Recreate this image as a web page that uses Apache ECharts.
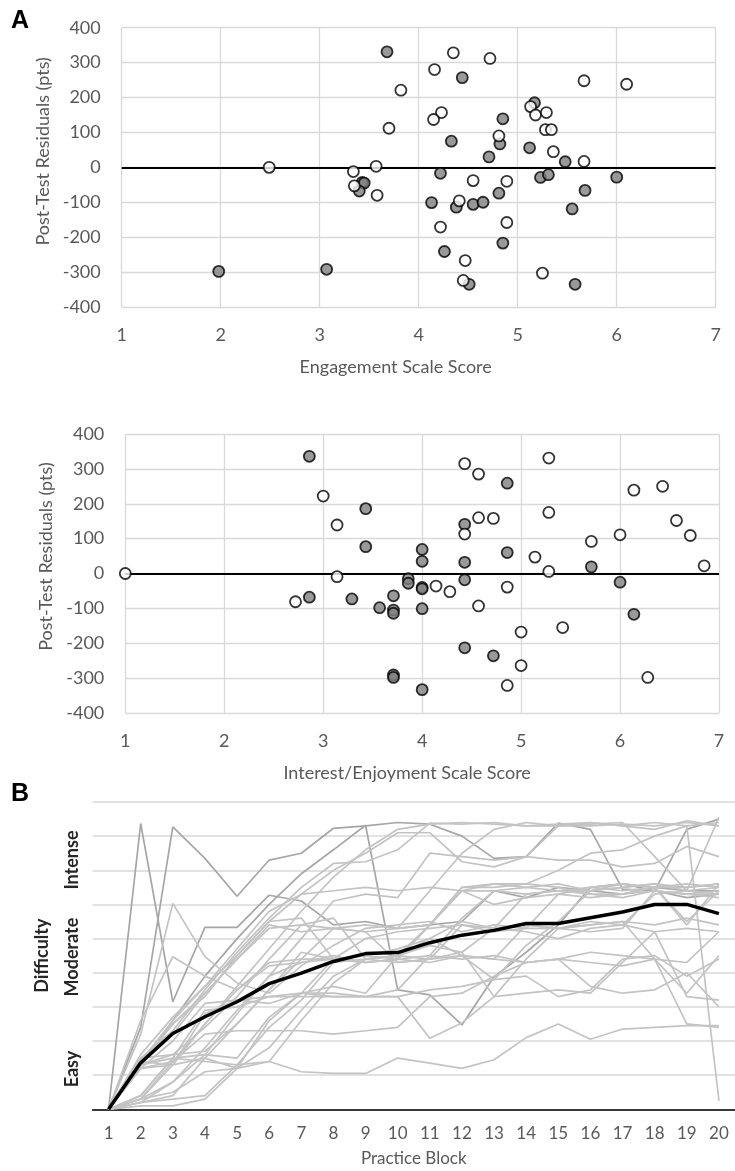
<!DOCTYPE html>
<html>
<head>
<meta charset="utf-8">
<script src="https://cdn.jsdelivr.net/npm/echarts@6/dist/echarts.min.js"></script>
<style>
  html, body { margin: 0; padding: 0; background: #ffffff; }
  #chart { width: 735px; height: 1171px; }
</style>
</head>
<body>
<div id="chart"></div>
<script>
// ---------- Panel A: post-test residuals vs. questionnaire scale scores ----------
// [scale score, residual]
const engagementOpen = [
  [2.49, 0], [3.34, -12], [3.57, 3], [3.35, -53], [3.58, -80], [3.82, 221], [3.70, 112],
  [4.35, 328], [4.72, 312], [4.16, 280], [5.67, 248], [6.10, 238], [5.13, 174], [5.18, 150],
  [5.29, 157], [4.23, 157], [4.15, 137], [5.28, 108], [5.34, 108], [4.81, 90], [5.36, 45],
  [5.67, 17], [4.55, -38], [4.89, -40], [4.41, -96], [4.89, -158], [4.22, -171],
  [4.47, -267], [5.25, -303], [4.45, -324]
];
const engagementFilled = [
  [3.68, 331], [3.43, -43], [3.45, -45], [3.40, -68], [1.98, -298], [3.07, -292],
  [4.44, 257], [5.17, 185], [4.85, 139], [4.82, 67], [4.33, 75], [5.12, 56], [4.71, 30],
  [5.48, 16], [4.22, -17], [5.23, -29], [5.31, -21], [6.00, -28], [5.68, -66], [4.81, -74],
  [4.13, -101], [4.38, -114], [4.55, -106], [4.65, -100], [5.55, -119], [4.85, -217],
  [4.26, -241], [4.51, -335], [5.58, -335]
];
const interestOpen = [
  [1.00, 0], [3.00, 222], [3.14, 139], [3.14, -9], [2.72, -81], [4.14, -36], [4.28, -52],
  [4.43, 315], [4.57, 285], [5.28, 331], [4.43, 113], [4.57, 160], [4.72, 158], [5.28, 175],
  [5.14, 47], [5.28, 6], [4.86, -39], [4.57, -93], [5.00, -168], [5.42, -155], [5.00, -264],
  [4.86, -321], [5.71, 92], [6.00, 111], [6.14, 239], [6.43, 250], [6.57, 152], [6.71, 109],
  [6.85, 22], [6.28, -298]
];
const interestFilled = [
  [2.86, 336], [3.43, 186], [3.43, 77], [2.86, -68], [3.29, -73], [3.71, -64], [3.57, -98],
  [3.71, -105], [3.71, -114], [3.86, -15], [3.86, -28], [3.71, -291], [3.71, -298],
  [4.00, 69], [4.00, 35], [4.00, -40], [4.00, -44], [4.00, -101], [4.00, -333],
  [4.86, 259], [4.43, 141], [4.43, 32], [4.43, -18], [4.86, 60], [4.43, -213], [4.72, -236],
  [5.71, 19], [6.00, -25], [6.14, -117]
];

// ---------- Panel B: difficulty level per practice block ----------
const blocks = ['1','2','3','4','5','6','7','8','9','10','11','12','13','14','15','16','17','18','19','20'];
const difficultyLabels = ['Easy', 'Moderate', 'Intense'];
const difficultyLabelLevels = [1.18, 4.46, 7.3];

// one row per participant (difficulty level, blocks 1-20)
const participantDifficulty = [
  [0,2.4,8.27,7.35,6.24,7.3,7.5,8.23,8.3,8.4,8.35,8.0,7.35,7.4,8.38,8.2,6.45,6.4,8.2,8.5],
  [0,8.37,3.15,5.33,5.33,6.27,6.1,5.4,5.5,5.3,5.4,5.5,6.4,6.2,6.5,6.4,6.3,6.5,6.4,6.4],
  [0,1.3,2.6,3.9,5.0,6.0,6.9,7.6,8.32,3.5,3.35,2.47,3.88,4.6,5.4,6.5,6.6,6.4,6.2,6.3],
  [0,1.5,2.3,3.5,4.6,5.6,6.5,7.2,7.25,7.6,8.38,8.35,8.4,8.3,8.35,8.4,8.3,8.2,8.45,8.3],
  [0,0.3,1.4,2.5,3.6,4.7,5.8,6.8,7.6,8.2,8.35,8.4,8.35,8.3,8.3,8.35,8.4,7.4,6.4,8.55],
  [0,1.4,2.5,3.3,4.5,5.5,6.3,7.0,7.5,8.1,8.1,7.25,7.1,7.4,8.3,8.3,8.35,8.3,8.4,8.3],
  [0,0.2,0.8,1.8,2.9,3.9,5.0,6.1,6.3,6.2,7.5,7.4,7.3,7.4,7.3,7.3,7.1,7.2,7.7,7.4],
  [0,2.2,6.03,4.47,3.7,3.4,4.2,4.8,5.3,5.4,5.5,5.2,5.4,5.3,6.3,6.5,6.4,6.5,6.6,6.5],
  [0,2.6,4.47,3.9,3.5,4.3,4.4,4.4,4.3,4.4,5.4,6.4,6.0,6.2,6.3,6.2,6.3,6.4,6.3,6.2],
  [0,1.5,1.6,2.4,3.3,4.4,5.4,5.6,4.4,4.5,5.4,6.4,6.4,6.3,6.4,6.3,6.3,6.5,5.5,6.4],
  [0,1.3,1.6,1.7,2.5,3.5,4.6,4.4,4.3,4.4,5.4,6.5,6.5,6.6,6.5,6.3,6.2,6.4,6.3,6.3],
  [0,1.2,1.3,2.8,3.2,3.1,3.4,4.4,5.0,5.2,5.3,5.4,5.2,5.3,5.3,5.5,5.4,5.2,5.3,5.2],
  [0,0.4,1.5,2.9,3.0,3.3,3.3,3.3,3.3,3.5,4.5,4.4,4.5,4.3,4.4,4.6,4.5,4.4,3.4,4.5],
  [0,1.4,1.3,1.5,1.2,1.8,2.9,3.9,4.4,4.5,4.8,4.6,5.3,5.2,5.0,5.3,5.4,6.3,6.4,6.3],
  [0,0.3,0.8,1.6,2.8,3.9,4.3,4.4,4.5,4.7,5.0,4.5,3.8,4.8,5.5,6.4,6.5,6.6,6.4,6.5],
  [0,0.4,1.5,1.6,1.5,2.7,3.4,3.4,3.3,3.3,3.5,3.6,3.8,3.9,3.3,3.5,4.4,4.5,3.9,4.4],
  [0,1.3,1.5,1.4,1.3,1.4,2.6,3.7,4.4,4.5,4.4,5.4,5.3,5.4,5.3,5.4,5.5,5.4,5.6,5.4],
  [0,0.3,0.5,1.1,1.2,1.4,1.1,1.05,1.05,1.5,1.35,1.2,1.45,2.1,2.5,2.05,2.35,2.4,2.45,2.45],
  [0,0.1,0.1,0.3,1.2,2.6,3.4,3.6,3.4,4.5,5.0,5.5,5.3,6.3,6.4,6.4,6.5,6.6,6.5,6.6],
  [0,1.6,2.7,3.6,4.7,5.8,6.3,6.4,6.5,6.4,6.5,6.4,6.6,6.6,7.0,7.5,7.6,8.0,8.3,0.25],
  [0,1.2,2.0,3.1,3.2,3.3,3.4,3.3,3.3,3.3,2.08,2.53,3.3,3.4,3.5,3.4,4.3,5.2,3.3,3.2],
  [0,0.2,0.3,0.4,1.3,2.4,3.2,4.3,4.4,4.3,4.4,4.6,3.3,4.4,5.3,5.4,5.5,4.4,2.5,2.4],
  [0,1.2,1.4,2.2,2.3,2.3,2.3,2.2,2.3,2.4,3.3,3.4,3.9,4.3,4.4,3.6,3.4,3.5,4.0,3.0],
  [0,1.4,2.6,3.6,4.5,5.5,5.6,4.4,4.5,4.4,4.5,5.6,6.4,6.5,6.4,6.5,6.6,6.5,6.5,6.6],
  [0,1.5,2.2,3.4,4.4,5.4,5.2,5.3,5.2,4.3,4.4,4.5,4.4,5.4,5.3,5.2,5.3,6.4,6.3,6.4],
  [0,0.3,1.3,2.5,3.5,4.2,4.3,4.5,4.3,4.4,4.3,4.5,4.4,4.3,4.4,4.3,4.2,4.4,4.3,5.2],
  [0,0.2,0.4,1.5,2.5,3.5,4.4,5.3,5.4,5.3,5.4,6.5,6.6,6.5,6.6,6.4,6.6,6.5,5.4,6.6],
  [0,1.3,2.5,3.4,4.4,5.3,5.4,5.3,5.2,5.3,6.4,7.5,8.2,8.4,8.3,8.4,8.3,8.4,8.3,8.4]
];
// group mean per block
const meanDifficulty = [0, 1.36, 2.22, 2.71, 3.15, 3.68, 3.99, 4.33, 4.56, 4.59, 4.88, 5.10, 5.24, 5.44, 5.44, 5.61, 5.78, 6.0, 6.0, 5.73];

// ---------- shared styling ----------
const FONT = 'Lato';
const TICK_COLOR = '#595959';
const GRID_COLOR = '#d9d9d9';

function residualAxes(gridIndex, xName, xShift, yShift) {
  return {
    x: {
      type: 'value', gridIndex, min: 1, max: 7, interval: 1,
      axisLine: { show: false }, axisTick: { show: false },
      splitLine: { lineStyle: { color: GRID_COLOR, width: 1.3 } },
      axisLabel: { color: TICK_COLOR, fontSize: 18, fontFamily: FONT, margin: 19 },
      name: xName, nameLocation: 'middle', nameGap: 51,
      nameTextStyle: { color: TICK_COLOR, fontSize: 18, fontFamily: FONT, padding: [0, xShift, 0, 0] }
    },
    y: {
      type: 'value', gridIndex, min: -400, max: 400, interval: 100,
      axisLine: { show: false }, axisTick: { show: false },
      splitLine: { lineStyle: { color: GRID_COLOR, width: 1.3 } },
      axisLabel: { color: TICK_COLOR, fontSize: 18, fontFamily: FONT, margin: 21 },
      name: 'Post-Test Residuals (pts)', nameLocation: 'middle', nameGap: 66,
      nameTextStyle: { color: TICK_COLOR, fontSize: 18, fontFamily: FONT, padding: [0, 0, 0, yShift] }
    }
  };
}

function scatterSeries(idx, data, fill, withZeroLine) {
  const s = {
    type: 'scatter', xAxisIndex: idx, yAxisIndex: idx, data,
    symbol: 'circle', symbolSize: 11,
    itemStyle: { color: fill, borderColor: '#000000', borderWidth: 1.8 },
    silent: true, z: 3
  };
  if (withZeroLine) {
    s.markLine = {
      silent: true, symbol: ['none', 'none'], label: { show: false },
      lineStyle: { color: '#000000', width: 2, type: 'solid' },
      data: [{ yAxis: 0 }], z: 2
    };
  }
  return s;
}

const a1 = residualAxes(0, 'Engagement Scale Score', 46, 32);
const a2 = residualAxes(1, 'Interest/Enjoyment Scale Score', 30, 34);

const participantSeries = participantDifficulty.map((row, i) => ({
  type: 'line', xAxisIndex: 2, yAxisIndex: 2, data: row,
  symbol: 'none', silent: true, z: 2,
  lineStyle: { color: i < 3 ? '#a6a6a6' : '#c3c3c3', width: 1.7 }
}));

const option = {
  animation: false,
  backgroundColor: '#ffffff',
  title: [
    { text: 'A', left: 11, top: 9, padding: 0,
      textStyle: { fontSize: 25, fontWeight: 'bold', fontFamily: 'Liberation Sans', color: '#000' } },
    { text: 'B', left: 11, top: 782, padding: 0,
      textStyle: { fontSize: 25, fontWeight: 'bold', fontFamily: 'Liberation Sans', color: '#000' } }
  ],
  grid: [
    { left: 121.7, top: 27.7, width: 594, height: 279.3 },
    { left: 125.3, top: 434, width: 593.7, height: 279 },
    { left: 92.5, top: 802, width: 649.4, height: 307.3 }
  ],
  xAxis: [
    a1.x, a2.x,
    {
      type: 'category', gridIndex: 2, data: blocks, boundaryGap: true,
      axisLine: { lineStyle: { color: '#000000', width: 1.5 } },
      axisTick: { show: false },
      axisLabel: { color: TICK_COLOR, fontSize: 17, fontFamily: FONT, margin: 16, interval: 0 },
      name: 'Practice Block', nameLocation: 'middle', nameGap: 41,
      nameTextStyle: { color: TICK_COLOR, fontSize: 17, fontFamily: FONT }
    }
  ],
  yAxis: [
    a1.y, a2.y,
    {
      type: 'value', gridIndex: 2, min: 0, max: 9, interval: 1,
      axisLine: { show: false }, axisTick: { show: false },
      splitLine: { lineStyle: { color: GRID_COLOR, width: 1.5 } },
      axisLabel: {
        customValues: difficultyLabelLevels,
        formatter: (v) => {
          const k = difficultyLabelLevels.findIndex(l => Math.abs(l - v) < 1e-6);
          return k >= 0 ? difficultyLabels[k] : '';
        },
        rotate: 90, color: '#262626', fontWeight: 'bold', fontSize: 18, fontFamily: FONT, margin: 11
      },
      name: 'Difficulty', nameLocation: 'middle', nameGap: 41,
      nameTextStyle: { color: '#262626', fontWeight: 'bold', fontSize: 18, fontFamily: FONT }
    }
  ],
  series: [
    scatterSeries(0, engagementFilled, '#808080', true),
    scatterSeries(0, engagementOpen, '#ffffff', false),
    scatterSeries(1, interestFilled, '#808080', true),
    scatterSeries(1, interestOpen, '#ffffff', false),
    ...participantSeries,
    {
      type: 'line', xAxisIndex: 2, yAxisIndex: 2, data: meanDifficulty,
      symbol: 'none', silent: true, z: 5,
      lineStyle: { color: '#000000', width: 3.5 }
    }
  ]
};

const chart = echarts.init(document.getElementById('chart'), null, { renderer: 'canvas' });
chart.setOption(option);
</script>
</body>
</html>
